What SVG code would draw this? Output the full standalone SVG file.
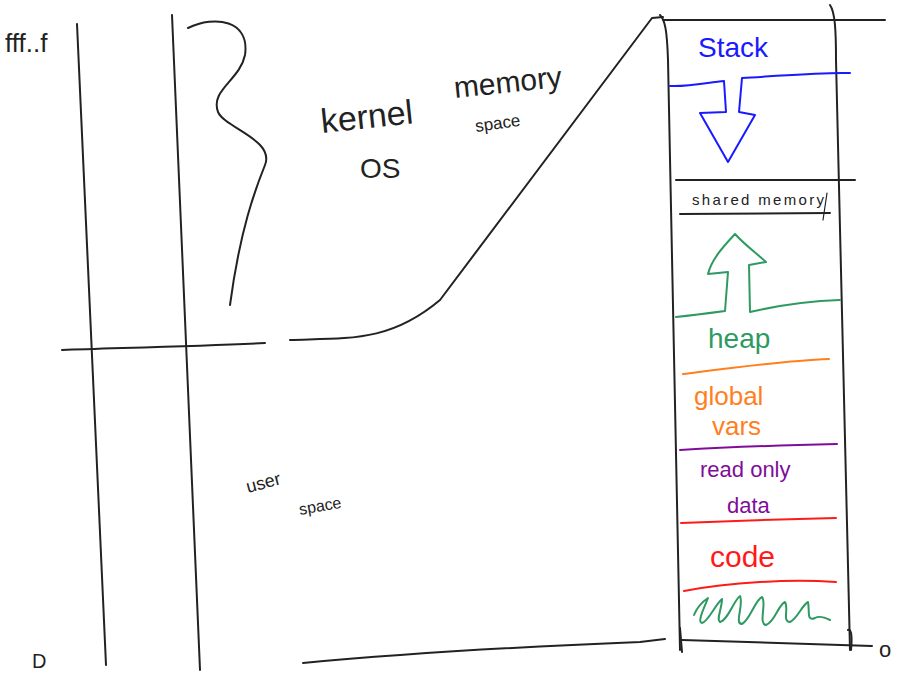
<svg xmlns="http://www.w3.org/2000/svg" width="903" height="675" viewBox="0 0 903 675">
<style>
.s{fill:none;stroke:#222;stroke-width:2;stroke-linecap:round;stroke-linejoin:round}
.t{font-family:"Liberation Sans","DejaVu Sans",sans-serif;fill:#222}
.blue{stroke:#1a1aff}.green{stroke:#2e9a62}.orange{stroke:#ff7f1e}.purple{stroke:#800d99}.red{stroke:#ff1a1a}
</style>
<rect width="903" height="675" fill="#fff"/>
<g id="connectors">
<path class="s" d="M77,24 L106,665"/>
<path class="s" d="M172,15 L200,670"/>
<path class="s" d="M188,28 C215,15 250,20 245,55 C240,80 210,90 218,112 C225,128 275,140 265,165 C255,190 240,230 230,305"/>
<path class="s" d="M62,350 C120,348 200,346 265,343"/>
<path class="s" d="M290,340 C350,338 390,342 440,300 L652,18 L663,17"/>
<path class="s" d="M303,663 C420,652 540,646 640,642 L665,639"/>
</g>
<g id="column">
<path class="s" d="M660,15 C665,20 667,30 668,60 L680,650"/>
<path class="s" d="M830,5 C835,12 836,30 836,60 L850,650"/>
<path class="s" d="M663,20 L885,20"/>
<path class="s" d="M682,640 L872,646"/>
<path class="s" d="M680,628 L682,652"/>
<path class="s" d="M848,630 C852,628 852,640 851,650"/>
</g>
<g id="stack">
<text class="t" x="698" y="57" font-size="28" style="fill:#1a1aff">Stack</text>
<path class="s blue" d="M670,86 C690,87 710,82 724,81 L726,112 L700,113 L728,162 L755,115 L739,112 L742,78 C780,76 820,72 850,73"/>
</g>
<g id="shared">
<path class="s" d="M676,180 L855,180"/>
<path class="s" d="M680,214 L830,213"/>
<path class="s" d="M827,193 L823,220" style="stroke-width:1.2"/>
<text class="t" x="692" y="205" font-size="15" textLength="132">shared memory</text>
</g>
<g id="heap">
<path class="s green" d="M676,317 C695,315 710,313 725,311 L728,272 L708,274 C712,258 725,245 735,234 C745,245 755,252 766,262 L749,265 L750,312 C780,305 810,301 840,300"/>
<text class="t" x="708" y="348" font-size="28" style="fill:#2e9a62">heap</text>
</g>
<g id="global">
<path class="s orange" d="M683,374 C730,368 780,361 829,359"/>
<text class="t" x="694" y="405" font-size="26" style="fill:#ff7f1e">global</text>
<text class="t" x="712" y="435" font-size="26" style="fill:#ff7f1e">vars</text>
</g>
<g id="rodata">
<path class="s purple" d="M680,450 C730,447 790,445 837,444"/>
<text class="t" x="700" y="477" font-size="22" style="fill:#800d99">read only</text>
<text class="t" x="727" y="513" font-size="22" style="fill:#800d99">data</text>
</g>
<g id="code">
<path class="s red" d="M681,523 C730,521 790,519 836,518"/>
<text class="t" x="710" y="567" font-size="30" style="fill:#ff1a1a">code</text>
<path class="s red" d="M684,591 C730,582 790,579 836,582"/>
</g>
<g id="bottom">
<path class="s green" d="M694,615 C698,605 705,600 708,598 C704,608 697,622 702,623 C708,622 715,605 722,599 C722,608 716,620 720,622 C728,620 734,600 740,596 C744,605 734,624 742,624 C750,620 755,600 762,597 C767,603 758,624 766,625 C775,622 778,605 785,602 C789,608 782,622 790,622 C798,618 802,605 808,602 C810,610 806,622 815,618 C820,615 826,618 830,620"/>
</g>
<g id="labels">
<text class="t" x="5" y="52" font-size="26">fff..f</text>
<text class="t" x="32" y="668" font-size="20">D</text>
<text class="t" x="879" y="657" font-size="22">o</text>
<text class="t" x="322" y="133" font-size="34" transform="rotate(-6 322 133)">kernel</text>
<text class="t" x="455" y="98" font-size="30" transform="rotate(-6 455 98)">memory</text>
<text class="t" x="476" y="132" font-size="17" transform="rotate(-8 476 132)">space</text>
<text class="t" x="360" y="178" font-size="28">OS</text>
<text class="t" x="248" y="493" font-size="18" transform="rotate(-15 248 493)">user</text>
<text class="t" x="300" y="515" font-size="16" transform="rotate(-10 300 515)">space</text>
</g>
</svg>
